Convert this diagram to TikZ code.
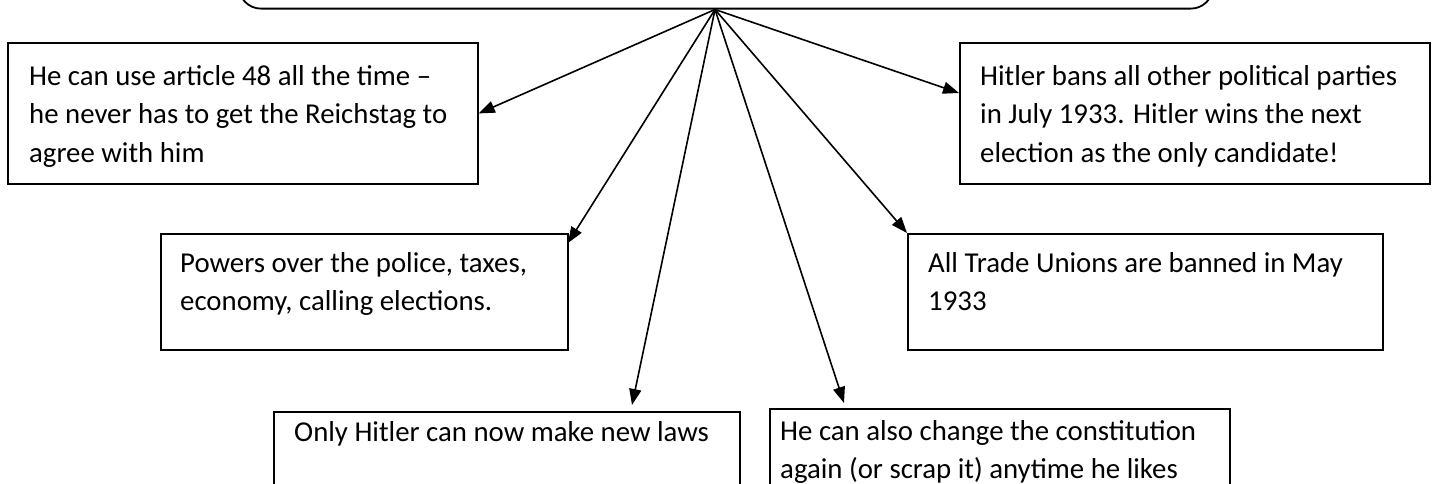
\documentclass[tikz,border=0pt]{standalone}
\usepackage{fontspec}
\setmainfont{Carlito}
\usetikzlibrary{arrows.meta}
\begin{document}
\begin{tikzpicture}[x=1pt,y=-1pt,
  box/.style={draw=black, line width=1.8pt, inner sep=0pt, anchor=north west},
  txt/.style={inner sep=0pt, anchor=north west, align=left, font=\fontsize{28.8}{38.5}\selectfont},
  arr/.style={line width=1.6pt, -{Triangle[length=16pt,width=12pt]}}]
\useasboundingbox (0,0) rectangle (1436,483);
\clip (0,0) rectangle (1436,483);
% top rounded box (cut off by the page)
\node[box, anchor=south west, rounded corners=22pt, minimum width=974pt, minimum height=100pt] (top) at (238,9.5) {};
\coordinate (hub) at (715,9.5);
% boxes
\node[box, minimum width=470pt, minimum height=141pt] (b1) at (7,42) {};
\node[box, minimum width=470pt, minimum height=141pt] (b2) at (959,42) {};
\node[box, minimum width=407pt, minimum height=116pt] (b3) at (160,233) {};
\node[box, minimum width=475pt, minimum height=116pt] (b4) at (907,233) {};
\node[box, minimum width=466pt, minimum height=120pt] (b5) at (273,411) {};
\node[box, minimum width=460pt, minimum height=120pt] (b6) at (769,408) {};
% texts
\node[txt] (t1) at (29,58) {\strut He can use article 48 all the time --\\\strut he never has to get the Reichstag to\\\strut agree with him};
\node[txt] (t2) at (980,58) {\strut Hitler bans all other political parties\\\strut in July 1933. Hitler wins the next\\\strut election as the only candidate!};
\node[txt] (t3) at (180,245) {\strut Powers over the police, taxes,\\\strut economy, calling elections.};
\node[txt] (t4) at (928,245) {\strut All Trade Unions are banned in May\\\strut 1933};
\node[txt] (t5) at (294,414) {\strut Only Hitler can now make new laws};
\node[txt] (t6) at (780,413) {\strut He can also change the constitution\\\strut again (or scrap it) anytime he likes};
% arrow targets
\coordinate (p1) at (b1.east);
\coordinate (p2) at (959,93);
\coordinate (p3) at (568,243);
\coordinate (p4) at (b4.north west);
\coordinate (p5) at (632,405);
\coordinate (p6) at (844,403);
\foreach \p in {p1,p2,p3,p4,p5,p6} \draw[arr] (hub) -- (\p);
\end{tikzpicture}
\end{document}
